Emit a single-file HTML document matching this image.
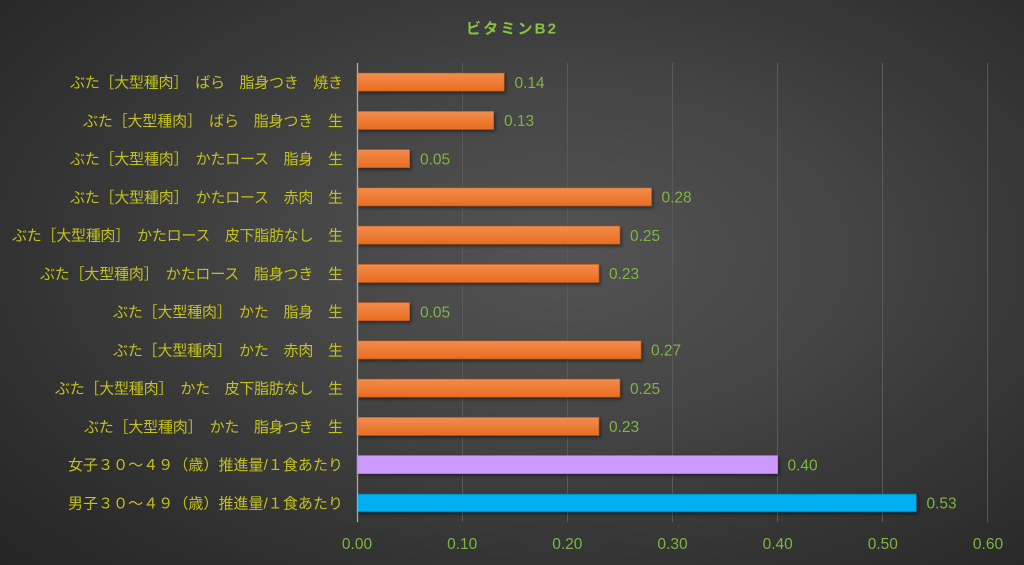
<!DOCTYPE html>
<html>
<head>
<meta charset="utf-8">
<style>
  html,body{margin:0;padding:0;width:1024px;height:565px;overflow:hidden;}
  body{background:radial-gradient(ellipse 75% 80% at 55% 45%, #535353 0%, #464646 35%, #333333 70%, #252525 100%);}
  svg{display:block;}
  .lab{font-family:"Liberation Sans","Noto Sans CJK JP",sans-serif;font-size:15px;fill:#c2c21c;}
  .val{font-family:"Liberation Sans",sans-serif;font-size:15.5px;fill:#7fb544;}
  .tick{font-family:"Liberation Sans",sans-serif;font-size:15.5px;fill:#7fb544;text-anchor:middle;}
  .title{font-family:"Liberation Sans","Noto Sans CJK JP",sans-serif;font-size:15px;font-weight:bold;fill:#86c440;}
</style>
</head>
<body>
<svg width="1024" height="565" viewBox="0 0 1024 565" xmlns="http://www.w3.org/2000/svg">
  <defs>
    <linearGradient id="og" x1="0" y1="0" x2="0" y2="1">
      <stop offset="0" stop-color="#f28c4e"/>
      <stop offset="1" stop-color="#e86d1f"/>
    </linearGradient>
    <filter id="sh" x="-5%" y="-30%" width="110%" height="170%">
      <feDropShadow dx="1.5" dy="2" stdDeviation="1.5" flood-color="#000" flood-opacity="0.45"/>
    </filter>
  </defs>

  <text class="title" x="466" y="33.5" textLength="90" lengthAdjust="spacing">ビタミンB2</text>

  <!-- gridlines -->
  <g stroke="#5a5a5a" stroke-width="1">
    <line x1="462.5" y1="63" x2="462.5" y2="522"/>
    <line x1="567.5" y1="63" x2="567.5" y2="522"/>
    <line x1="672.5" y1="63" x2="672.5" y2="522"/>
    <line x1="777.5" y1="63" x2="777.5" y2="522"/>
    <line x1="882.5" y1="63" x2="882.5" y2="522"/>
    <line x1="987.5" y1="63" x2="987.5" y2="522"/>
  </g>

  <!-- bars -->
  <g filter="url(#sh)">
    <rect x="357" y="73.1" width="147.2" height="18" fill="url(#og)" stroke="#c85a14" stroke-width="0.6"/>
    <rect x="357" y="111.4" width="136.7" height="18" fill="url(#og)" stroke="#c85a14" stroke-width="0.6"/>
    <rect x="357" y="149.6" width="52.6" height="18" fill="url(#og)" stroke="#c85a14" stroke-width="0.6"/>
    <rect x="357" y="187.9" width="294.5" height="18" fill="url(#og)" stroke="#c85a14" stroke-width="0.6"/>
    <rect x="357" y="226.1" width="262.9" height="18" fill="url(#og)" stroke="#c85a14" stroke-width="0.6"/>
    <rect x="357" y="264.4" width="241.9" height="18" fill="url(#og)" stroke="#c85a14" stroke-width="0.6"/>
    <rect x="357" y="302.6" width="52.6" height="18" fill="url(#og)" stroke="#c85a14" stroke-width="0.6"/>
    <rect x="357" y="340.9" width="284" height="18" fill="url(#og)" stroke="#c85a14" stroke-width="0.6"/>
    <rect x="357" y="379.1" width="262.9" height="18" fill="url(#og)" stroke="#c85a14" stroke-width="0.6"/>
    <rect x="357" y="417.4" width="241.9" height="18" fill="url(#og)" stroke="#c85a14" stroke-width="0.6"/>
    <rect x="357" y="455.6" width="420.7" height="18" fill="#cc99ff" stroke="#b07fe0" stroke-width="0.6"/>
    <rect x="357" y="493.9" width="559.5" height="18" fill="#00b0f0" stroke="#0a5a80" stroke-width="0.8"/>
  </g>

  <!-- axis line -->
  <line x1="357.5" y1="63" x2="357.5" y2="522" stroke="#a8a8a8" stroke-width="1.3"/>

  <!-- value labels -->
  <text class="val" x="514.5" y="87.8">0.14</text>
  <text class="val" x="504" y="126.1">0.13</text>
  <text class="val" x="420" y="164.3">0.05</text>
  <text class="val" x="661.5" y="202.6">0.28</text>
  <text class="val" x="630" y="240.8">0.25</text>
  <text class="val" x="609" y="279.1">0.23</text>
  <text class="val" x="420" y="317.3">0.05</text>
  <text class="val" x="651" y="355.6">0.27</text>
  <text class="val" x="630" y="393.8">0.25</text>
  <text class="val" x="609" y="432.1">0.23</text>
  <text class="val" x="787.5" y="470.3">0.40</text>
  <text class="val" x="926.5" y="508.6">0.53</text>

  <!-- category labels -->
  <text class="lab" x="70" y="87.5" textLength="273" lengthAdjust="spacing">ぶた［大型種肉］　ばら　脂身つき　焼き</text>
  <text class="lab" x="83" y="125.8" textLength="260" lengthAdjust="spacing">ぶた［大型種肉］　ばら　脂身つき　生</text>
  <text class="lab" x="70" y="164" textLength="273" lengthAdjust="spacing">ぶた［大型種肉］　かたロース　脂身　生</text>
  <text class="lab" x="70" y="202.3" textLength="273" lengthAdjust="spacing">ぶた［大型種肉］　かたロース　赤肉　生</text>
  <text class="lab" x="12" y="240.5" textLength="331" lengthAdjust="spacing">ぶた［大型種肉］　かたロース　皮下脂肪なし　生</text>
  <text class="lab" x="40" y="278.8" textLength="303" lengthAdjust="spacing">ぶた［大型種肉］　かたロース　脂身つき　生</text>
  <text class="lab" x="113" y="317" textLength="230" lengthAdjust="spacing">ぶた［大型種肉］　かた　脂身　生</text>
  <text class="lab" x="113" y="355.3" textLength="230" lengthAdjust="spacing">ぶた［大型種肉］　かた　赤肉　生</text>
  <text class="lab" x="55" y="393.5" textLength="288" lengthAdjust="spacing">ぶた［大型種肉］　かた　皮下脂肪なし　生</text>
  <text class="lab" x="84" y="431.8" textLength="259" lengthAdjust="spacing">ぶた［大型種肉］　かた　脂身つき　生</text>
  <text class="lab" x="68" y="470" textLength="275" lengthAdjust="spacing">女子３０～４９（歳）推進量/１食あたり</text>
  <text class="lab" x="68" y="508.3" textLength="275" lengthAdjust="spacing">男子３０～４９（歳）推進量/１食あたり</text>

  <!-- tick labels -->
  <text class="tick" x="357" y="549">0.00</text>
  <text class="tick" x="462.2" y="549">0.10</text>
  <text class="tick" x="567.3" y="549">0.20</text>
  <text class="tick" x="672.5" y="549">0.30</text>
  <text class="tick" x="777.7" y="549">0.40</text>
  <text class="tick" x="882.8" y="549">0.50</text>
  <text class="tick" x="988" y="549">0.60</text>
</svg>
</body>
</html>
